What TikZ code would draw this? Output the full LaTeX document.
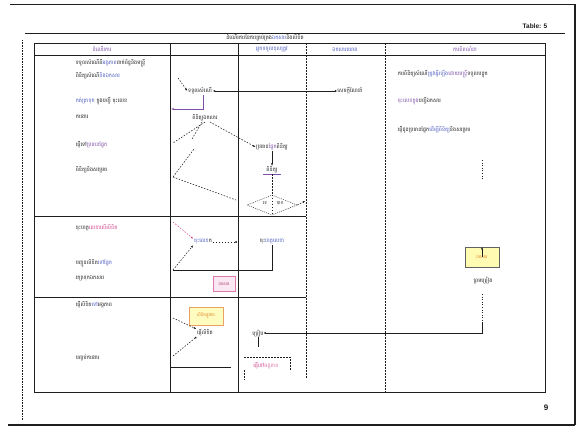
\documentclass[tikz,border=0pt]{standalone}
\usepackage{fontspec}
\setmainfont{Liberation Sans}
\newfontfamily\kh[Script=Khmer]{Battambang}
\usetikzlibrary{arrows.meta,shapes.geometric}
\definecolor{ink}{HTML}{1E1E1E}
\definecolor{khblue}{HTML}{4A5AC0}
\definecolor{khpink}{HTML}{D0408A}
\definecolor{khpurple}{HTML}{7E4EA8}
\definecolor{khorange}{HTML}{E07A20}
\begin{document}
\begin{tikzpicture}[x=1pt,y=-1pt,
  lbl/.style={font=\kh\fontsize{5.3}{6}\selectfont, inner sep=0.6pt, text=ink},
  rule/.style={draw=ink, line width=0.9pt},
  dashrule/.style={draw=ink, line width=0.9pt, dash pattern=on 2pt off 1pt},
  flow/.style={draw=ink, line width=0.55pt},
  dflow/.style={draw=ink, line width=0.55pt, dash pattern=on 1.5pt off 1.5pt},
  tipend/.style={-{Latex[length=2.5pt,width=2pt]}},
  dotend/.style={-{Circle[length=1.8pt]}},
  dottip/.style={{Circle[length=1.8pt]}-{Latex[length=2.5pt,width=2pt]}}]
\useasboundingbox (0,0) rectangle (583,441);
\fill[white] (0,0) rectangle (583,441);

% page frame
\draw[ink, line width=1.2pt] (10,4.5) -- (575,4.5);
\draw[ink, line width=1.2pt] (575,4.5) -- (575,425);
\draw[ink, line width=1.2pt] (8,425) -- (575,425);
\draw[ink, line width=0.6pt, densely dotted] (22,40) -- (22,420);
\draw[ink, line width=0.6pt] (25,33) -- (565,33);
\node[font=\bfseries\fontsize{6.5}{8}\selectfont, text=ink] (tabno) at (535,26) {Table: 5};
\node[font=\bfseries\fontsize{8}{9}\selectfont, text=ink] (pageno) at (546,408) {9};
\node[lbl] (title) at (265,38) {ដំណើរការនៃការគ្រប់គ្រង\textcolor{khblue}{ឯកសារ}និងលិខិត};

% table grid
\draw[rule] (34,43) rectangle (545,392);
\draw[rule] (34,55) -- (545,55);
\draw[rule] (170,43) -- (170,392);
\draw[rule] (238,43) -- (238,392);
\draw[dashrule] (306,43) -- (306,378);
\draw[dashrule] (385,43) -- (385,392);
\draw[rule] (34,216) -- (306,216);
\draw[rule] (34,297) -- (306,297);

% column heads
\node[lbl, text=khpurple] (h1) at (102,49) {ដំណើរការ};
\node[lbl, text=khblue] (h3) at (272,49) {អ្នកទទួលខុសត្រូវ};
\node[lbl, text=khblue] (h4) at (345,49) {ឯកសារយោង};
\node[lbl, text=khpurple] (h5) at (465,49) {ការពិពណ៌នា};

% first column: steps
\node[lbl, anchor=west] (s1) at (75,63) {ទទួលសំណើពី\textcolor{khblue}{អង្គភាព}ពាក់ព័ន្ធនិងមន្ត្រី};
\node[lbl, anchor=west] (s2) at (75,76) {ពិនិត្យសំណើ\textcolor{khblue}{និងឯកសារ}};
\node[lbl, anchor=west] (s3) at (75,101) {\textcolor{khblue}{កត់ត្រាទុក} ក្នុងបញ្ជី ចុះលេខ};
\node[lbl, anchor=west] (s4) at (75,117) {ការងារ};
\node[lbl, anchor=west] (s5) at (75,145) {ផ្ញើទៅ\textcolor{khpurple}{ប្រធានផ្នែក}};
\node[lbl, anchor=west] (s6) at (75,170) {ពិនិត្យនិងសម្រេច};
\node[lbl, anchor=west] (s7) at (75,228) {ចុះហត្ថ\textcolor{khpink}{លេខាលើលិខិត}};
\node[lbl, anchor=west] (s8) at (75,263) {បញ្ជូនលិខិត\textcolor{khblue}{ទៅផ្នែក}};
\node[lbl, anchor=west] (s9) at (75,278) {រក្សាទុកឯកសារ};
\node[lbl, anchor=west] (s10) at (75,305) {ផ្ញើលិខិត\textcolor{khblue}{ទៅ}អង្គភាព};
\node[lbl, anchor=west] (s11) at (75,358) {បញ្ចប់ការងារ};

% fourth and fifth columns
\node[lbl] (ref) at (350,91) {សេចក្ដីណែនាំ};
\node[lbl, anchor=west] (d1) at (397,74) {ការពិនិត្យសំណើ\textcolor{khblue}{ត្រូវធ្វើឡើង}\textcolor{khpurple}{ដោយមន្ត្រី}ទទួលបន្ទុក};
\node[lbl, anchor=west] (d2) at (397,101) {\textcolor{khpurple}{ចុះលេខក្នុង}បញ្ជីឯកសារ};
\node[lbl, anchor=west] (d3) at (397,130) {ផ្ញើជូនប្រធានផ្នែក\textcolor{khblue}{ដើម្បីពិនិត្យ}និងសម្រេច};

% flow: receiving and checking
\node[lbl] (a) at (200,91) {ទទួលសំណើ};
\node[lbl] (b) at (205,118) {ពិនិត្យឯកសារ};
\node[lbl] (c) at (272,147) {ប្រធាន\textcolor{khpurple}{ផ្នែក}ពិនិត្យ};
\node[lbl] (d) at (272,170) {ពិនិត្យ};
\draw[khpurple, line width=0.5pt] ([xshift=-9pt]d.south) -- ([xshift=9pt]d.south);
\node[draw=ink, line width=0.4pt, dash pattern=on 1pt off 1pt, diamond, aspect=2.6,
      minimum width=50pt, minimum height=20pt, inner sep=0pt] (e) at (272,205) {};
\node[lbl, font=\kh\fontsize{4.5}{5}\selectfont] (eno) at (265,203) {ទេ};
\node[lbl, font=\kh\fontsize{4.5}{5}\selectfont] (eyes) at (280,203) {បាទ};

\coordinate (inA) at (178,78);
\draw[dflow, tipend] (inA) -- (a.west);
\draw[flow, dottip] (ref.west) -- (a.east);
\coordinate (backA) at (171,109);
\draw[khpurple, line width=0.6pt, tipend] ([xshift=3pt]a.south) |- (backA);

\coordinate (leftB1) at (173,143);
\coordinate (leftB2) at (192,139);
\coordinate (leftV) at (173,177);
\coordinate (midV) at (194,149);
\coordinate (rightV) at (236,200);
\draw[dflow] (b.south) -- (leftB1);
\draw[dflow] ([xshift=-3pt]b.south) -- (leftB2);
\draw[dflow, tipend] ([xshift=5pt]b.south) -- (c.west);
\draw[dflow] (leftV) -- (midV);
\draw[dflow] (leftV) -- (rightV);
\draw[flow, tipend] (c.south) -- (d.north);
\draw[dflow] (d.south) -- (e.north);
\draw[dflow] (e.north) -- (e.south);
\draw[dflow, tipend] (e.east) -- ++(8,-4);

% flow: signing
\node[lbl, text=khblue] (f) at (203,242) {ចុះលេខ\textcolor{ink}{ក}};
\node[lbl] (g) at (272,242) {ចុះ\textcolor{khblue}{ហត្ថលេខា}};
\coordinate (inF) at (173,222);
\coordinate (upF) at (173,270);
\draw[khpink, line width=0.5pt, dash pattern=on 1.5pt off 1.5pt, tipend] (inF) -- (f.north west);
\draw[dflow, tipend] (upF) -- (f.south west);
\draw[dflow, dotend] (f.east) -- (237,242);
\draw[flow] (g.south) |- (upF);
\node[draw=khpink!70, fill=khpink!12, line width=0.5pt, minimum width=22pt, minimum height=15pt,
      font=\kh\fontsize{4}{4.5}\selectfont, text=khpink!80!black, inner sep=0.5pt] (pinkbox) at (224,284) {ឯកសារ};

% flow: sending
\node[draw=khorange!70, fill=yellow!25, line width=0.5pt, minimum width=34pt, minimum height=18pt,
      font=\kh\fontsize{4.2}{4.5}\selectfont, text=khorange, inner sep=0.5pt] (y) at (206,316) {លិខិតផ្លូវការ};
\node[lbl] (h) at (205,333) {ផ្ញើលិខិត};
\coordinate (inH) at (173,318);
\coordinate (upH) at (173,356);
\draw[dflow, tipend] (inH) -- (h.north west);
\draw[dflow, dotend] (upH) -- (h.south west);
\coordinate (endLine) at (231,367);
\draw[rule, line width=0.6pt] (170,367) -- (endLine);
\node[lbl] (i) at (258,333) {ប្រៀប};
\node[lbl, text=khpink] (pinktxt) at (266,366) {ផ្ញើទៅ\textcolor{khpink!70}{អង្គភាព}};
\draw[flow] (i.south) -- ++(0,10);
\draw[dflow] (244,357) -- (290,357) -- (290,370);
\draw[dflow] (244,370) -- (244,380);

% fifth column: document box
\coordinate (topDots) at (482,160);
\draw[ink, line width=0.6pt, dotted] (topDots) -- ++(0,20);
\node[draw=ink!70, fill=yellow!30, line width=0.5pt, minimum width=34pt, minimum height=20pt,
      font=\kh\fontsize{4.2}{4.5}\selectfont, text=khorange, inner sep=0.5pt] (doc) at (482,257) {ឯកសារ};
\draw[flow, tipend] ([yshift=-10pt]doc.north) -- (doc.north);
\node[lbl] (agree) at (483,280) {ព្រមព្រៀង};
\coordinate (lowDots) at (482,294);
\draw[ink, line width=0.6pt, dotted] (lowDots) -- (482,322);
\draw[flow, dotend] (482,322) |- (i.east);
\end{tikzpicture}
\end{document}
